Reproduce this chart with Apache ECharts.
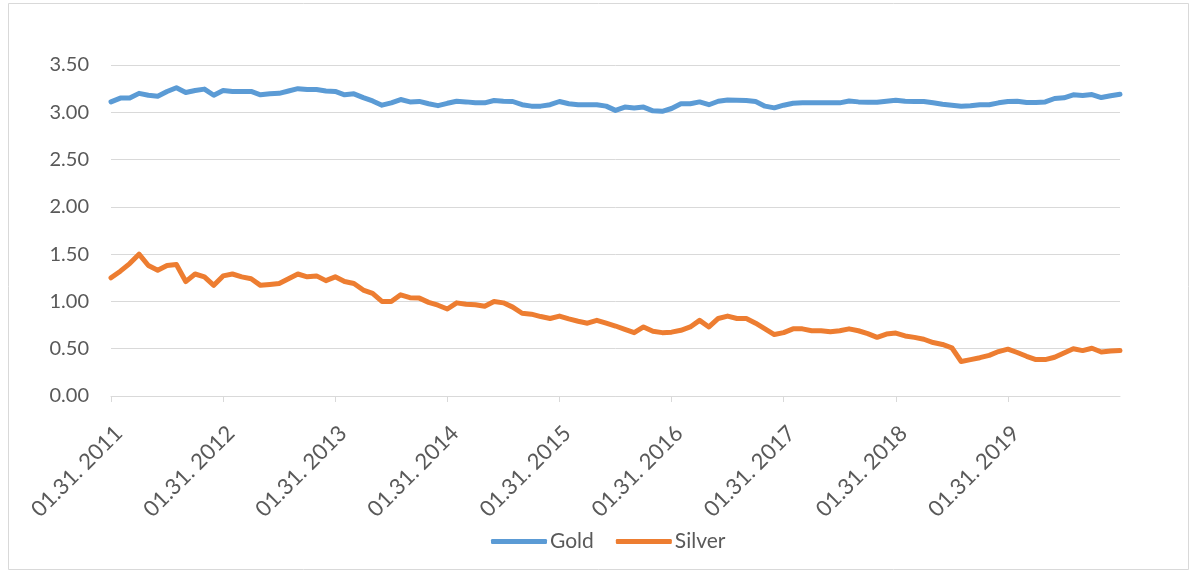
<!DOCTYPE html>
<html>
<head>
<meta charset="utf-8">
<script src="https://cdn.jsdelivr.net/npm/echarts@6/dist/echarts.min.js"></script>
<style>
html,body{margin:0;padding:0;background:#fff;}
#chart{width:1198px;height:573px;}
</style>
</head>
<body>
<div id="chart"></div>
<script>
// Month-end dates Jan 2011 .. Jan 2020
const startYear = 2011;
const monthCount = 109;
const monthEndDays = [31,28,31,30,31,30,31,31,30,31,30,31];
const categories = [];
for (let i = 0; i < monthCount; i++) {
  const y = startYear + Math.floor(i / 12);
  const m = i % 12;
  let d = monthEndDays[m];
  if (m === 1 && y % 4 === 0) d = 29;
  categories.push(String(m + 1).padStart(2, '0') + '.' + d + '. ' + y);
}

const gold = [
  3.11,3.15,3.15,3.20,3.18,3.17,3.22,3.26,3.21,3.23,3.245,3.18,
  3.23,3.22,3.22,3.22,3.185,3.195,3.20,3.225,3.25,3.24,3.24,3.225,
  3.22,3.185,3.195,3.155,3.12,3.075,3.10,3.135,3.11,3.115,3.09,3.07,
  3.095,3.117,3.11,3.10,3.10,3.125,3.117,3.114,3.08,3.065,3.065,3.08,
  3.114,3.09,3.08,3.08,3.08,3.065,3.02,3.055,3.045,3.055,3.015,3.01,
  3.04,3.09,3.09,3.11,3.08,3.117,3.13,3.128,3.125,3.114,3.065,3.047,
  3.075,3.096,3.10,3.10,3.10,3.10,3.10,3.12,3.11,3.107,3.107,3.117,
  3.128,3.117,3.114,3.114,3.10,3.085,3.075,3.065,3.068,3.08,3.08,3.10,
  3.114,3.117,3.103,3.103,3.11,3.146,3.153,3.185,3.178,3.188,3.156,3.174,
  3.19
];

const silver = [
  1.25,1.32,1.40,1.50,1.38,1.33,1.38,1.39,1.21,1.29,1.26,1.17,
  1.27,1.29,1.26,1.24,1.17,1.18,1.19,1.24,1.29,1.26,1.27,1.22,
  1.26,1.21,1.19,1.12,1.085,1.00,1.00,1.07,1.04,1.035,0.99,0.96,
  0.92,0.985,0.97,0.965,0.95,1.00,0.985,0.94,0.875,0.865,0.84,0.82,
  0.845,0.815,0.79,0.77,0.80,0.77,0.74,0.705,0.67,0.73,0.685,0.67,
  0.675,0.695,0.73,0.80,0.73,0.82,0.845,0.82,0.82,0.77,0.71,0.65,
  0.67,0.71,0.71,0.69,0.69,0.68,0.69,0.71,0.69,0.66,0.62,0.655,
  0.665,0.635,0.62,0.60,0.565,0.545,0.51,0.365,0.385,0.405,0.43,0.47,
  0.495,0.46,0.42,0.385,0.385,0.41,0.455,0.50,0.48,0.505,0.465,0.475,
  0.48
];

const seriesNames = ['Gold', 'Silver'];
const colors = ['#5B9BD5', '#ED7D31'];

const showYear = (idx) => idx % 12 === 0 && idx < 108;
const FONT = 'Lato, "Open Sans", sans-serif';

const chart = echarts.init(document.getElementById('chart'), null, {renderer: 'canvas'});
chart.setOption({
  animation: false,
  backgroundColor: '#ffffff',
  color: colors,
  textStyle: {fontFamily: FONT},
  grid: {left: 111, right: 78, top: 65, bottom: 177, containLabel: false},
  legend: {
    bottom: 16,
    left: 486,
    itemWidth: 56,
    itemHeight: 5,
    itemGap: 22,
    icon: 'roundRect',
    textStyle: {fontSize: 21, color: '#595959', fontFamily: FONT, padding: [0,0,0,-2]},
    data: seriesNames
  },
  xAxis: {
    type: 'category',
    data: categories,
    boundaryGap: false,
    axisLine: {lineStyle: {color: '#d9d9d9', width: 1}},
    axisTick: {show: true, interval: showYear, length: 6, lineStyle: {color: '#d9d9d9'}},
    axisLabel: {
      interval: showYear,
      rotate: 45,
      fontSize: 22,
      color: '#595959',
      fontFamily: FONT,
      margin: 26,
      verticalAlign: 'top'
    },
    splitLine: {show: false}
  },
  yAxis: {
    type: 'value',
    min: 0,
    max: 3.5,
    interval: 0.5,
    axisLine: {show: false},
    axisTick: {show: false},
    axisLabel: {
      formatter: (v) => v.toFixed(2),
      fontSize: 20,
      color: '#595959',
      fontFamily: FONT,
      margin: 22
    },
    splitLine: {lineStyle: {color: '#d9d9d9', width: 1}}
  },
  series: [
    {name: seriesNames[0], type: 'line', data: gold, symbol: 'none', lineStyle: {width: 5, color: colors[0], cap: 'round', join: 'round'}},
    {name: seriesNames[1], type: 'line', data: silver, symbol: 'none', lineStyle: {width: 5, color: colors[1], cap: 'round', join: 'round'}}
  ],
  graphic: [
    {type: 'rect', shape: {x: 8.5, y: 3.5, width: 1180, height: 566}, style: {fill: 'none', stroke: '#d9d9d9', lineWidth: 1}, silent: true}
  ]
});
</script>
</body>
</html>
